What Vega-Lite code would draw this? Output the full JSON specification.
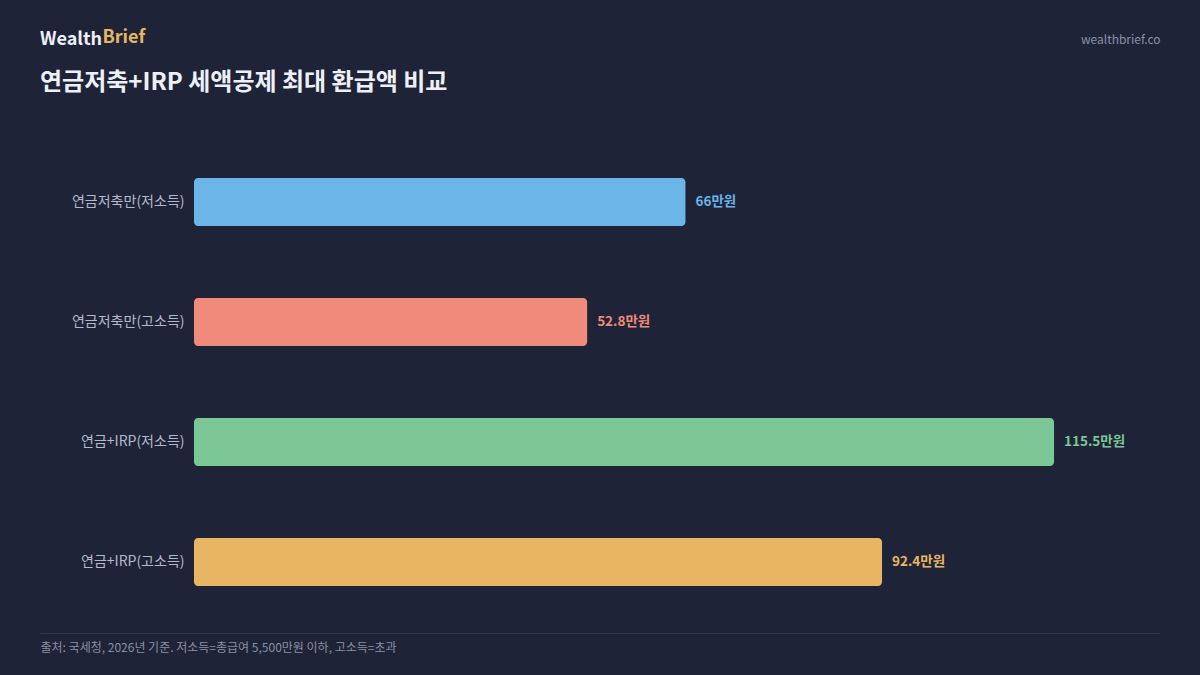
{
  "$schema": "https://vega.github.io/schema/vega-lite/v6.json",
  "autosize": {"type": "none"},
  "width": 1120,
  "height": 502,
  "padding": {"left": 40, "top": 131, "right": 40, "bottom": 42},
  "background": "#1e2338",
  "config": {
    "font": "Noto Sans CJK KR",
    "view": {"stroke": null}
  },
  "title": {
    "text": "Wealth",
    "subtitle": "연금저축+IRP 세액공제 최대 환급액 비교",
    "anchor": "start",
    "frame": "group",
    "orient": "top",
    "offset": -67,
    "font": "Noto Sans CJK KR",
    "fontSize": 18,
    "fontWeight": "bold",
    "color": "#eef0f7",
    "subtitleFont": "Noto Sans CJK KR",
    "subtitleFontSize": 24,
    "subtitleFontWeight": "bold",
    "subtitleColor": "#eef0f7",
    "subtitlePadding": 22
  },
  "data": {
    "values": [
      {"category": "연금저축만(저소득)", "amount": 66, "label": "66만원"},
      {"category": "연금저축만(고소득)", "amount": 52.8, "label": "52.8만원"},
      {"category": "연금+IRP(저소득)", "amount": 115.5, "label": "115.5만원"},
      {"category": "연금+IRP(고소득)", "amount": 92.4, "label": "92.4만원"}
    ]
  },
  "encoding": {
    "y": {
      "field": "category",
      "type": "nominal",
      "sort": null,
      "scale": {"paddingInner": 0.6, "paddingOuter": 0.3917},
      "axis": {
        "orient": "left",
        "domain": false,
        "ticks": false,
        "grid": false,
        "labelPadding": -144,
        "labelColor": "#b4bacb",
        "labelFontSize": 14,
        "labelFont": "Noto Sans CJK KR",
        "title": "wealthbrief.co",
        "titleAngle": 0,
        "titleX": 1120,
        "titleY": -92,
        "titleAlign": "right",
        "titleBaseline": "middle",
        "titleColor": "#8a91a8",
        "titleFontSize": 12,
        "titleFontWeight": "normal",
        "titleFont": "Noto Sans CJK KR"
      }
    },
    "color": {
      "field": "category",
      "type": "nominal",
      "scale": {
        "domain": ["연금저축만(저소득)", "연금저축만(고소득)", "연금+IRP(저소득)", "연금+IRP(고소득)"],
        "range": ["#6cb5e7", "#f08b7b", "#7cc795", "#e8b663"]
      },
      "legend": null
    }
  },
  "layer": [
    {
      "mark": {"type": "bar", "cornerRadius": 4},
      "encoding": {
        "x": {
          "field": "amount",
          "type": "quantitative",
          "scale": {"domain": [-20.68, 129.73], "nice": false, "zero": false},
          "axis": {
            "orient": "bottom",
            "domain": true,
            "domainColor": "#2f3652",
            "domainWidth": 1,
            "ticks": false,
            "labels": false,
            "grid": false,
            "title": "출처: 국세청, 2026년 기준. 저소득=총급여 5,500만원 이하, 고소득=초과",
            "titleAnchor": "start",
            "titleAlign": "left",
            "titleColor": "#8a90a4",
            "titleFontSize": 12,
            "titleFontWeight": "normal",
            "titleFont": "Noto Sans CJK KR",
            "titlePadding": 9
          }
        },
        "x2": {"datum": 0}
      }
    },
    {
      "mark": {"type": "text", "align": "left", "baseline": "middle", "dx": 10, "fontSize": 13.5, "fontWeight": "bold", "font": "Noto Sans CJK KR"},
      "encoding": {
        "x": {
          "field": "amount",
          "type": "quantitative",
          "axis": {
            "orient": "top",
            "domain": false,
            "ticks": false,
            "labels": false,
            "grid": false,
            "title": "Brief",
            "titleX": 62,
            "titleY": -94,
            "titleAlign": "left",
            "titleBaseline": "middle",
            "titleColor": "#e8b663",
            "titleFontSize": 18,
            "titleFontWeight": "bold",
            "titleFont": "Noto Sans CJK KR"
          }
        },
        "text": {"field": "label"}
      }
    }
  ],
  "resolve": {"axis": {"x": "independent"}}
}
